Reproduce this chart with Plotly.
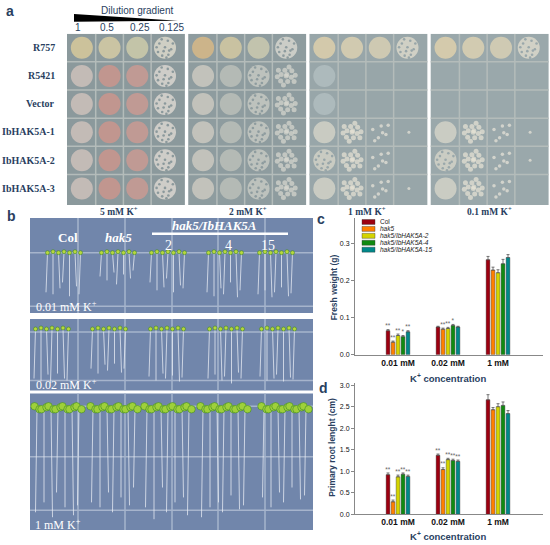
import plotly.graph_objects as go

W, H = 550, 545

# ---------------- data: panel a (yeast drop test) ----------------
strains = ['R757', 'R5421', 'Vector', 'IbHAK5A-1', 'IbHAK5A-2', 'IbHAK5A-3']
dilutions = ['1', '0.5', '0.25', '0.125']
media_a = ['5 mM K<sup>+</sup>', '2 mM K<sup>+</sup>', '1 mM K<sup>+</sup>', '0.1 mM K<sup>+</sup>']
# growth score per spot: 4 lawn, 3 dense speckle, 2 clumps, 1 few colonies, 0.5 faint film, 0.2 single colony
growth_5mM = [[4, 4, 4, 3], [4, 4, 4, 3], [4, 4, 4, 3], [4, 4, 4, 3], [4, 4, 4, 3], [4, 4, 4, 3]]
growth_2mM = [[4, 4, 4, 3], [4, 4, 3, 2], [4, 4, 3, 2], [4, 4, 3, 2], [4, 4, 3, 2], [4, 4, 3, 2]]
growth_1mM = [[4, 4, 4, 3], [0.5, 0, 0, 0], [0.5, 0, 0, 0], [4, 2, 1, 0.2], [3, 2, 1, 0], [4, 2, 1, 0.2]]
growth_01mM = [[4, 4, 4, 3], [0, 0, 0, 0], [0, 0, 0, 0], [4, 2, 1, 0.2], [3, 2, 1, 0.2], [4, 2, 1, 0]]
growth_a = [growth_5mM, growth_2mM, growth_1mM, growth_01mM]

# ---------------- data: panel b (seedlings, root length in photo units) ----------------
media_b = ['0.01 mM K<sup>+</sup>', '0.02 mM K<sup>+</sup>', '1 mM K<sup>+</sup>']
roots_001 = [[40, 42, 36, 30, 44, 34, 42], [24, 28, 20, 32, 22, 26, 18],
             [30, 38, 35, 26, 40, 33, 36], [40, 44, 36, 42, 30, 45, 38], [42, 38, 45, 40, 35, 44, 41]]
roots_002 = [[50, 53, 46, 55, 45, 50, 52], [40, 45, 36, 42, 35, 44, 40],
             [48, 52, 45, 50, 47, 53, 49], [50, 46, 52, 48, 55, 44, 50], [48, 52, 50, 46, 53, 49, 51]]
roots_1mM = [[105, 95, 110, 85, 100, 108, 98], [95, 100, 85, 105, 90, 98, 80],
             [100, 112, 80, 105, 95, 90, 108], [110, 100, 95, 105, 88, 102, 98], [90, 100, 85, 95, 80, 92, 88]]
roots_b = [roots_001, roots_002, roots_1mM]

# ---------------- data: panels c and d ----------------
concentrations = ['0.01 mM', '0.02 mM', '1 mM']
lines = ['Col', 'hak5', 'hak5/IbHAK5A-2', 'hak5/IbHAK5A-4', 'hak5/IbHAK5A-15']
fresh_weight = [[0.065, 0.075, 0.257], [0.034, 0.069, 0.229], [0.052, 0.071, 0.222],
                [0.049, 0.079, 0.246], [0.062, 0.075, 0.263]]
fresh_weight_err = [[0.003, 0.002, 0.009], [0.003, 0.003, 0.008], [0.004, 0.003, 0.008],
                    [0.003, 0.003, 0.012], [0.003, 0.002, 0.008]]
fresh_weight_sig = [['**', '', ''], ['**', '**', ''], ['**', '**', ''], ['*', '*', ''], ['**', '', '']]
root_length = [[0.92, 1.37, 2.66], [0.29, 1.04, 2.43], [0.87, 1.27, 2.50],
               [0.93, 1.25, 2.53], [0.88, 1.23, 2.34]]
root_length_err = [[0.04, 0.03, 0.12], [0.04, 0.04, 0.05], [0.04, 0.03, 0.07],
                   [0.03, 0.03, 0.08], [0.03, 0.03, 0.07]]
root_length_sig = [['**', '**', ''], ['**', '**', ''], ['**', '**', ''], ['**', '**', ''], ['**', '**', '']]

# ---------------- styles ----------------
SANS = 'Liberation Sans'
SERIF = 'Liberation Serif'
bar_colors = ['#9c0010', '#ff7f00', '#d4d400', '#118a11', '#00888a']

plate_bg = ['#8b999c', '#8e9c9f', '#98a6a9', '#9aa8ab']
cream_5 = ['#e8d39b', '#e6d6a6', '#dcd6ae', '#ece6d6']
pink_5 = ['#dcc9c2', '#d9948a', '#d79a91', '#ebe2dc']
cream_2 = ['#e7bf82', '#e3d3a2', '#d9d4b4', '#e6e3d8']
grey_2 = ['#d9d3c7', '#c5c7bf', '#d2d3cb', '#d8d8d0']
cream_1 = ['#ecd9ad', '#eadab3', '#e6d8b6', '#e8e2d2']
faint_1 = ['rgba(220,228,228,0.45)'] * 4
white_1 = ['#dedbcd', '#e8e4d6', '#eae6da', '#eae6da']
spot_colors = [
    [cream_5] + [pink_5] * 5,
    [cream_2] + [grey_2] * 5,
    [cream_1, faint_1, faint_1] + [white_1] * 3,
    [cream_1, faint_1, faint_1] + [white_1] * 3,
]

PITCH, OFF, SP = 4.33, 0.53, 0.99
HOLES = [(-0.2, -0.15), (0.1, -0.25), (0.22, 0.05), (-0.05, 0.12), (-0.25, 0.15), (0.12, 0.25),
         (0.0, -0.02), (-0.12, -0.3), (0.28, -0.15), (-0.3, -0.02), (0.15, 0.1), (-0.1, 0.28), (0.05, 0.35)]
CLUMPS = [(0, 0), (0.18, 0.05), (-0.18, -0.05), (0.05, 0.2), (-0.05, -0.2), (0.2, -0.18), (-0.2, 0.18),
          (0.28, 0.2), (-0.28, -0.2), (0.1, -0.32), (-0.1, 0.32), (0.32, -0.02), (-0.32, 0.03), (0.02, -0.05)]
FEW = [(-0.25, -0.1), (0.05, -0.22), (0.22, 0.08), (-0.05, 0.2), (0.3, -0.25), (-0.18, 0.3), (0.1, 0.02)]


def px(x):
    # window pixel -> paper fraction
    return x / W


def py(y):
    return 1 - y / H


fig = go.Figure()
shapes = []
ann = []

# ---------------- panel a ----------------
cx, cy, cc, cs = [], [], [], []
hx, hy, hc = [], [], []
for p, grid in enumerate(growth_a):
    shapes.append(dict(type='rect', xref='x', yref='y', x0=p * PITCH, x1=p * PITCH + 4.21, y0=0, y1=6.09,
                       fillcolor=plate_bg[p], line_width=0, layer='below'))
    for c in range(3):
        xl = p * PITCH + OFF + c * SP + SP / 2
        shapes.append(dict(type='line', xref='x', yref='y', x0=xl, x1=xl, y0=0, y1=6.09,
                           line=dict(color='#b4bcba', width=1.5), layer='below'))
    for r in range(1, 6):
        shapes.append(dict(type='line', xref='x', yref='y', x0=p * PITCH, x1=p * PITCH + 4.21, y0=r, y1=r,
                           line=dict(color='#b4bcba', width=1.5), layer='below'))
    for r, row in enumerate(grid):
        for c, g in enumerate(row):
            x0 = p * PITCH + OFF + c * SP
            y0 = 0.5 + r
            col = spot_colors[p][r][c]
            if g >= 3 or g == 0.5:
                cx.append(x0); cy.append(y0); cc.append(col); cs.append(22)
                if g == 3:
                    for dx, dy in HOLES:
                        hx.append(x0 + dx); hy.append(y0 + dy); hc.append(plate_bg[p])
            elif g == 2:
                for dx, dy in CLUMPS:
                    cx.append(x0 + dx); cy.append(y0 + dy); cc.append(col); cs.append(5)
            elif g == 1:
                for dx, dy in FEW:
                    cx.append(x0 + dx); cy.append(y0 + dy); cc.append(col); cs.append(3.5)
            elif g == 0.2:
                cx.append(x0 + 0.05); cy.append(y0); cc.append(col); cs.append(3)

fig.add_trace(go.Scatter(x=cx, y=cy, mode='markers', xaxis='x', yaxis='y', showlegend=False,
                         hoverinfo='skip', marker=dict(color=cc, size=cs, line_width=0)))
fig.add_trace(go.Scatter(x=hx, y=hy, mode='markers', xaxis='x', yaxis='y', showlegend=False,
                         hoverinfo='skip', marker=dict(color=hc, size=2.6, line_width=0)))

ann.append(dict(x=px(10), y=py(9), text='<b>a</b>', font=dict(family=SANS, size=14)))
ann.append(dict(x=px(137), y=py(9), text='Dilution gradient', font=dict(family=SANS, size=10)))
for i, d in enumerate(dilutions):
    ann.append(dict(x=px([78, 107, 140, 171][i]), y=py(26), text=d, font=dict(family=SANS, size=10)))
shapes.append(dict(type='path', xref='paper', yref='paper',
                   path=f'M {px(74)} {py(12)} L {px(178)} {py(19)} L {px(74)} {py(20)} Z',
                   fillcolor='black', line_width=0))
for r, s in enumerate(strains):
    ann.append(dict(x=px(57), y=py(46 + r * 28.4), text=f'<b>{s}</b>', xanchor='right',
                    font=dict(family=SERIF, size=10)))
for p, m in enumerate(media_a):
    ann.append(dict(x=px([119, 248, 367, 489][p]), y=py(211), text=f'<b>{m}</b>',
                    font=dict(family=SERIF, size=9.5)))

# ---------------- panel b ----------------
plate_spans = [(0, 96), (102, 174), (177, 315)]
hlines_b = [[35, 89], [115, 164], [190, 241, 295]]
tops_b = [35, 112, 192]
centers_b = [[34, 88, 138, 195, 246], [22, 79, 137, 196, 248], [28, 84, 138, 194, 255]]
spacing_b = [5.5, 5.5, 7.0]
for k, (y0, y1) in enumerate(plate_spans):
    shapes.append(dict(type='rect', xref='x2', yref='y2', x0=0, x1=283, y0=y0, y1=y1,
                       fillcolor='#7186ab', line_width=0, layer='below'))
    for xv in [48, 95, 142, 188, 235]:
        shapes.append(dict(type='line', xref='x2', yref='y2', x0=xv, x1=xv, y0=y0, y1=y1,
                           line=dict(color='#a6b4cc', width=1.5), layer='below'))
    for yv in hlines_b[k]:
        shapes.append(dict(type='line', xref='x2', yref='y2', x0=0, x1=283, y0=yv, y1=yv,
                           line=dict(color='#a6b4cc', width=1.5), layer='below'))

for k, plate in enumerate(roots_b):
    rx, ry, sx, sy = [], [], [], []
    for g, lengths in enumerate(plate):
        for i, ln in enumerate(lengths):
            x = centers_b[k][g] + (i - 3) * spacing_b[k]
            rx += [x, x + (i % 3 - 1) * 1.5, None]
            ry += [tops_b[k], tops_b[k] + ln, None]
            if k == 2:
                sx += [x - 2.5, x + 2.5]
                sy += [tops_b[k] - 2 + (i % 2) * 3, tops_b[k] + 1 - (i % 2) * 2]
            else:
                sx.append(x); sy.append(tops_b[k] - (i % 2))
    fig.add_trace(go.Scatter(x=rx, y=ry, mode='lines', xaxis='x2', yaxis='y2', showlegend=False,
                             hoverinfo='skip', line=dict(color='rgba(232,237,244,0.85)', width=0.9)))
    fig.add_trace(go.Scatter(x=sx, y=sy, mode='markers', xaxis='x2', yaxis='y2', showlegend=False,
                             hoverinfo='skip',
                             marker=dict(color='#9fd03a' if k == 2 else '#b9d83c',
                                         size=7.5 if k == 2 else 4,
                                         line=dict(color='#3f8a26', width=0.6))))

ann.append(dict(x=px(11), y=py(216), text='<b>b</b>', font=dict(family=SANS, size=14)))
white = dict(family=SERIF, size=13, color='white')
ann.append(dict(x=px(68), y=py(238), text='<b>Col</b>', font=white))
ann.append(dict(x=px(118), y=py(238), text='<b><i>hak5</i></b>', font=white))
ann.append(dict(x=px(214), y=py(226), text='<b><i>hak5/IbHAK5A</i></b>', font=white))
shapes.append(dict(type='line', xref='paper', yref='paper', x0=px(152), x1=px(288), y0=py(234), y1=py(234),
                   line=dict(color='white', width=2.5)))
for t, xv in zip(['2', '4', '15'], [168, 228, 268]):
    ann.append(dict(x=px(xv), y=py(246), text=t, font=dict(family=SERIF, size=14, color='white')))
for m, xv, yv in zip(media_b, [66, 66, 58], [307, 386, 527]):
    ann.append(dict(x=px(xv), y=py(yv), text=m, font=dict(family=SERIF, size=12, color='white')))

# ---------------- panels c and d ----------------
for j, name in enumerate(lines):
    for vals, errs, sig, xa, ya, lift in [(fresh_weight, fresh_weight_err, fresh_weight_sig, 'x3', 'y3', 0.001),
                                          (root_length, root_length_err, root_length_sig, 'x4', 'y4', 0.01)]:
        fig.add_trace(go.Bar(
            x=concentrations, y=vals[j], name=name, xaxis=xa, yaxis=ya, showlegend=False,
            offsetgroup=str(j),
            marker=dict(color=bar_colors[j], line=dict(color='#333333', width=0.4)),
            error_y=dict(type='data', array=errs[j], arrayminus=[0, 0, 0], symmetric=False,
                         color='#555555', thickness=0.8, width=1.5),
        ))
        # significance marks sit on an invisible sliver just above each error bar
        fig.add_trace(go.Bar(
            x=concentrations, y=[lift] * 3, base=[v + e for v, e in zip(vals[j], errs[j])],
            xaxis=xa, yaxis=ya, showlegend=False, offsetgroup=str(j), hoverinfo='skip',
            marker=dict(color='rgba(0,0,0,0)', line_width=0),
            text=sig[j], textposition='outside', constraintext='none', cliponaxis=False,
            textfont=dict(family=SANS, size=6.5, color='#666666'),
        ))

# legend drawn by hand (plotly legend rows are too tall for this size)
for j, name in enumerate(lines):
    yc = 222 + j * 7
    shapes.append(dict(type='rect', xref='paper', yref='paper', x0=px(362), x1=px(375),
                       y0=py(yc + 2.5), y1=py(yc - 2.5), fillcolor=bar_colors[j],
                       line=dict(color='#333333', width=0.4)))
    label = name if j == 0 else f'<i>{name}</i>'
    ann.append(dict(x=px(378), y=py(yc), text=label, xanchor='left',
                    font=dict(family=SANS, size=6.5, color='#222222')))

ann.append(dict(x=px(321), y=py(219), text='<b>c</b>', font=dict(family=SANS, size=14)))
ann.append(dict(x=px(323), y=py(390), text='<b>d</b>', font=dict(family=SANS, size=14)))
ann.append(dict(x=px(334), y=py(288), text='<b>Fresh weight (g)</b>', textangle=-90,
                font=dict(family=SANS, size=8.5)))
ann.append(dict(x=px(332), y=py(450), text='<b>Primary root lenght (cm)</b>', textangle=-90,
                font=dict(family=SANS, size=8.5)))
ann.append(dict(x=px(448), y=py(379), text='<b>K<sup>+</sup> concentration</b>', font=dict(family=SANS, size=9.5)))
ann.append(dict(x=px(448), y=py(539), text='<b>K<sup>+</sup> concentration</b>', font=dict(family=SANS, size=9.5)))

for a in ann:
    a.setdefault('xref', 'paper')
    a.setdefault('yref', 'paper')
    a.setdefault('xanchor', 'center')
    a.setdefault('yanchor', 'middle')
    a['showarrow'] = False

hidden = dict(visible=False, showgrid=False, zeroline=False, fixedrange=True)
cat_x = dict(type='category', range=[-0.86, 2.9], showline=True, linecolor='#888888', linewidth=1,
             ticks='', showgrid=False, zeroline=False, tickfont=dict(family=SANS, size=8.5, color='#111'),
             tickprefix='<b>', ticksuffix='</b>', ticklabelstandoff=0)
val_y = dict(showline=True, linecolor='#888888', linewidth=1, ticks='outside', ticklen=3,
             tickcolor='#888888', showgrid=False, zeroline=False,
             tickfont=dict(family=SANS, size=7, color='#111'), tickprefix='<b>', ticksuffix='</b>')

fig.update_layout(
    width=W, height=H,
    margin=dict(l=0, r=0, t=0, b=0),
    paper_bgcolor='white', plot_bgcolor='rgba(0,0,0,0)',
    barmode='group', bargap=0.5, bargroupgap=0.25,
    xaxis=dict(domain=[px(67), px(549)], range=[0, 482 / 28], **hidden),
    yaxis=dict(domain=[py(205), py(32)], range=[173 / 28.4, 0], anchor='x', **hidden),
    xaxis2=dict(domain=[px(30), px(313)], range=[0, 283], anchor='y2', **hidden),
    yaxis2=dict(domain=[py(533), py(218)], range=[315, 0], anchor='x2', **hidden),
    xaxis3=dict(domain=[px(355), px(543)], anchor='y3', **cat_x),
    yaxis3=dict(domain=[py(356), py(218)], range=[0, 0.37], anchor='x3', tickvals=[0, 0.1, 0.2, 0.3],
                tickformat='.1f', **val_y),
    xaxis4=dict(domain=[px(355), px(543)], anchor='y4', **cat_x),
    yaxis4=dict(domain=[py(517), py(385)], range=[0, 3.04], anchor='x4',
                tickvals=[0, 0.5, 1, 1.5, 2, 2.5, 3], tickformat='.1f', **val_y),
    shapes=shapes,
    annotations=ann,
)

# drop the default 8 px body margin so the 550x545 figure fills the window exactly
fig.write_html('out.html', config={'displayModeBar': False},
               post_script="document.body.style.margin = '0';")
